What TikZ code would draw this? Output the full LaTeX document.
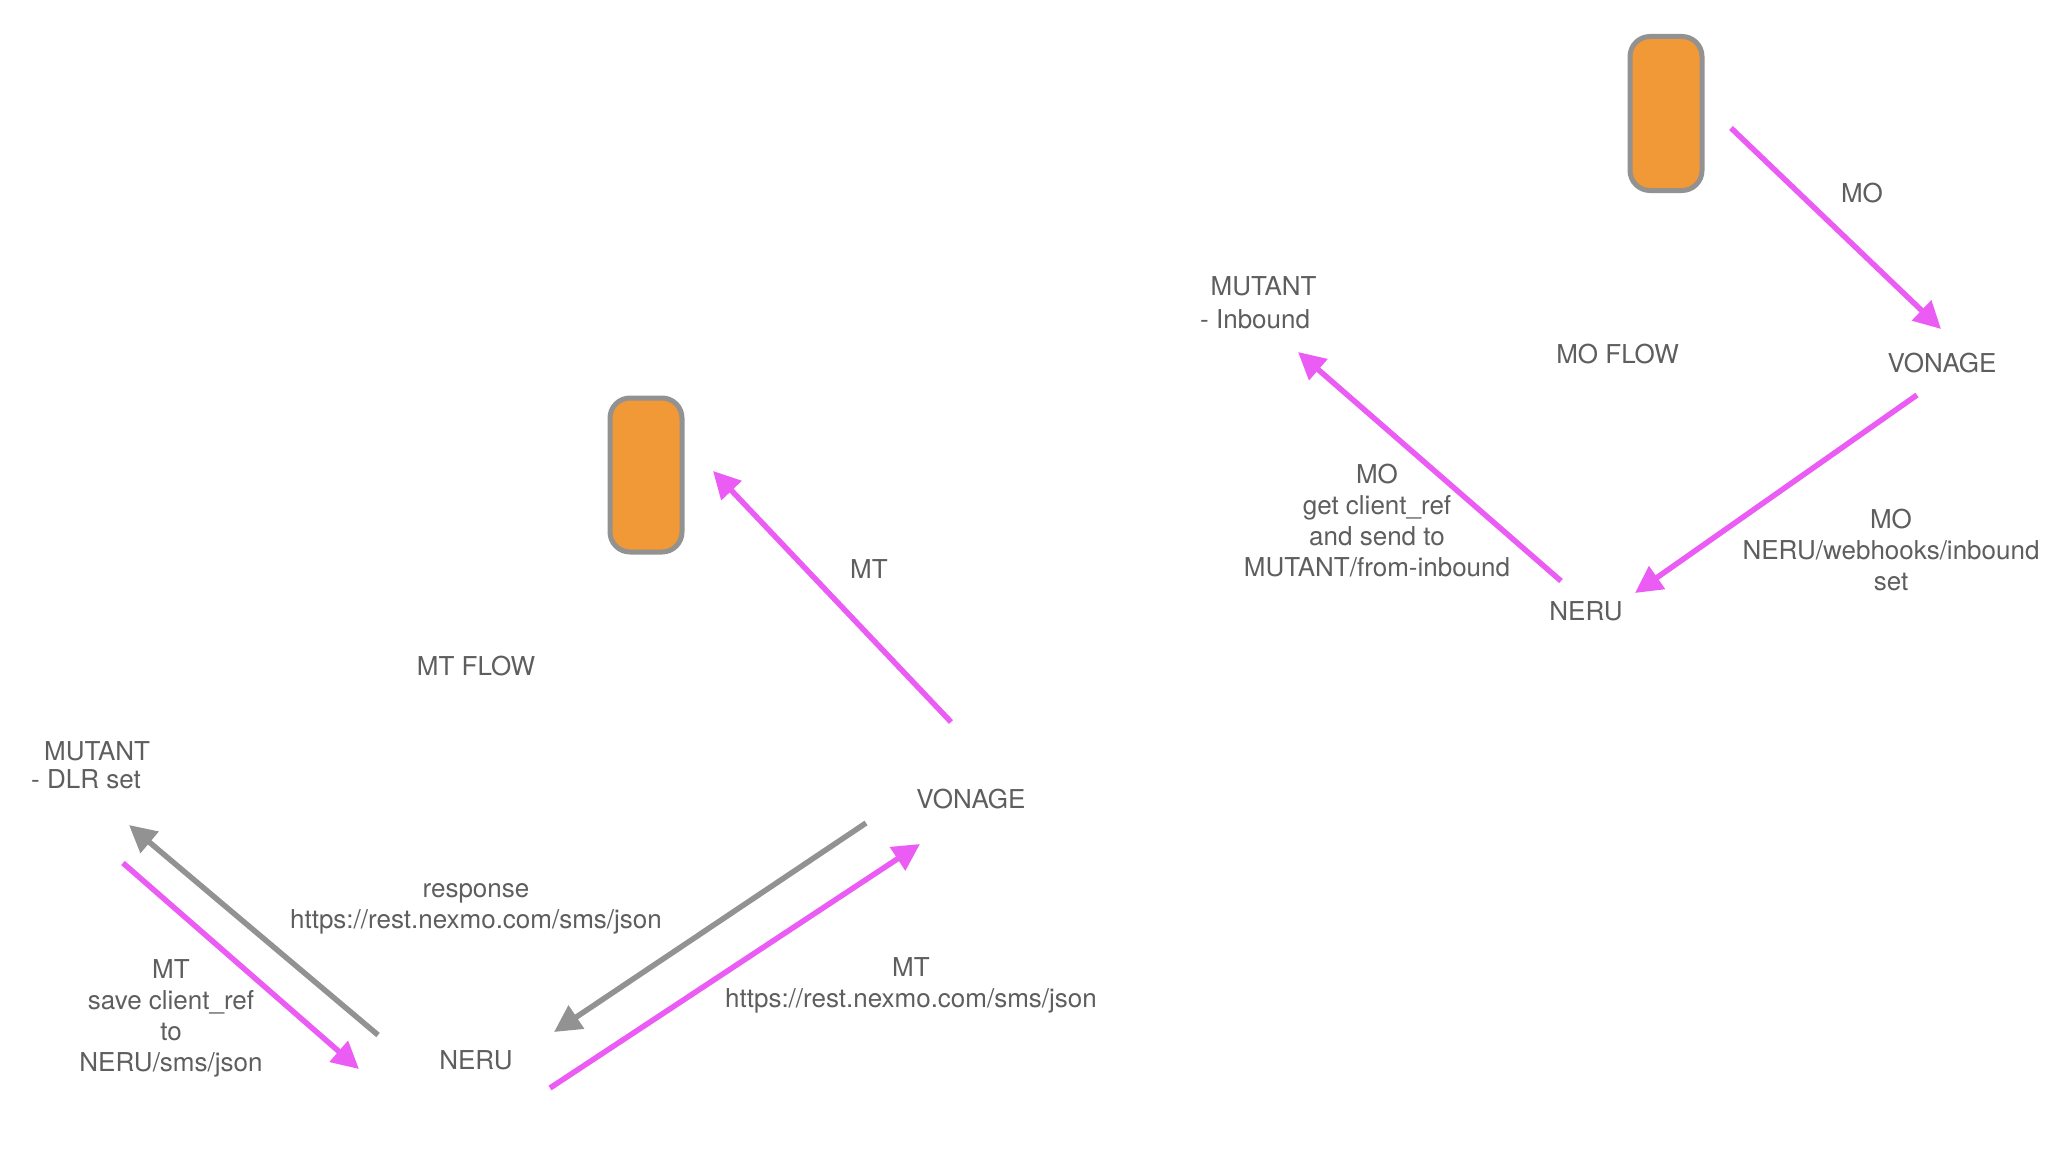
\documentclass[tikz,border=0pt]{standalone}
\usepackage{fontspec}
\setmainfont{TeX Gyre Heros}
\usetikzlibrary{arrows.meta}
\definecolor{flowpink}{HTML}{EB5CF5}
\definecolor{flowgrey}{HTML}{929292}
\definecolor{phoneorange}{HTML}{F19837}
\definecolor{labelgrey}{HTML}{5E5E5E}
\tikzset{>={Triangle[length=27pt,width=27pt]}}
\tikzset{lbl/.style={text=labelgrey,inner sep=0pt,align=center,font=\fontsize{26}{31}\selectfont}}
\tikzset{phone/.style={draw=flowgrey,line width=5pt,fill=phoneorange,rounded corners=20pt,minimum width=72pt,minimum height=154pt,inner sep=0pt}}
\tikzset{pinkline/.style={->,flowpink,line width=5.5pt}}
\tikzset{greyline/.style={->,flowgrey,line width=5.5pt}}

\begin{document}
\begin{tikzpicture}[x=1pt,y=-1pt]
\useasboundingbox (0,0) rectangle (2052,1148);
\node (mophone) [phone] at (1666,113.5) {};
\node (mtphone) [phone] at (646,475) {};

\node (moflow) [lbl] at (1617.5,354) {MO FLOW};
\node (molabel) [lbl] at (1862,193) {MO};
\node (movonage) [lbl] at (1942,363) {VONAGE};
\node (moneru) [lbl] at (1586,611) {NERU};
\node (momutant) [lbl,align=left,anchor=west] at (1200,303) {\hspace*{10.5pt}MUTANT\\[2pt]- Inbound};
\node (moset) [lbl] at (1891,550) {MO\\NERU/webhooks/inbound\\set};
\node (moget) [lbl] at (1377,521) {MO\\get client\_ref\\and send to\\MUTANT/from-inbound};

\node (mtflow) [lbl] at (476,666) {MT FLOW};
\node (mtlabel) [lbl] at (869,569) {MT};
\node (mtvonage) [lbl] at (971,799) {VONAGE};
\node (mtneru) [lbl] at (476,1060) {NERU};
\node (mtmutant) [lbl,align=left,anchor=west] at (31,765) {\hspace*{13pt}MUTANT\\[-3pt]- DLR set};
\node (mtresponse) [lbl] at (476,909) {response\\https://rest.nexmo.com/sms/json};
\node (mtrest) [lbl] at (911,985) {MT\\https://rest.nexmo.com/sms/json};
\node (mtsave) [lbl] at (171,1018) {MT\\save client\_ref\\to\\NERU/sms/json};

\coordinate (mostart) at (1731,128);
\coordinate (moend) at (1941,329);
\coordinate (vonagea) at (1917,395);
\coordinate (nerua) at (1635,593);
\coordinate (nerub) at (1561,581);
\coordinate (mutantb) at (1298,352);
\coordinate (vonagec) at (951,722);
\coordinate (phonec) at (713,471);
\coordinate (vonaged) at (866,823);
\coordinate (nerud) at (554,1032);
\coordinate (nerue) at (550,1088);
\coordinate (vonagee) at (920,844);
\coordinate (mutantf) at (123,863);
\coordinate (neruf) at (359,1069);
\coordinate (nerug) at (378,1035);
\coordinate (mutantg) at (129,825);

\draw[pinkline] (mostart) -- (moend);
\draw[pinkline] (vonagea) -- (nerua);
\draw[pinkline] (nerub) -- (mutantb);
\draw[pinkline] (vonagec) -- (phonec);
\draw[greyline] (vonaged) -- (nerud);
\draw[pinkline] (nerue) -- (vonagee);
\draw[pinkline] (mutantf) -- (neruf);
\draw[greyline] (nerug) -- (mutantg);
\end{tikzpicture}
\end{document}
